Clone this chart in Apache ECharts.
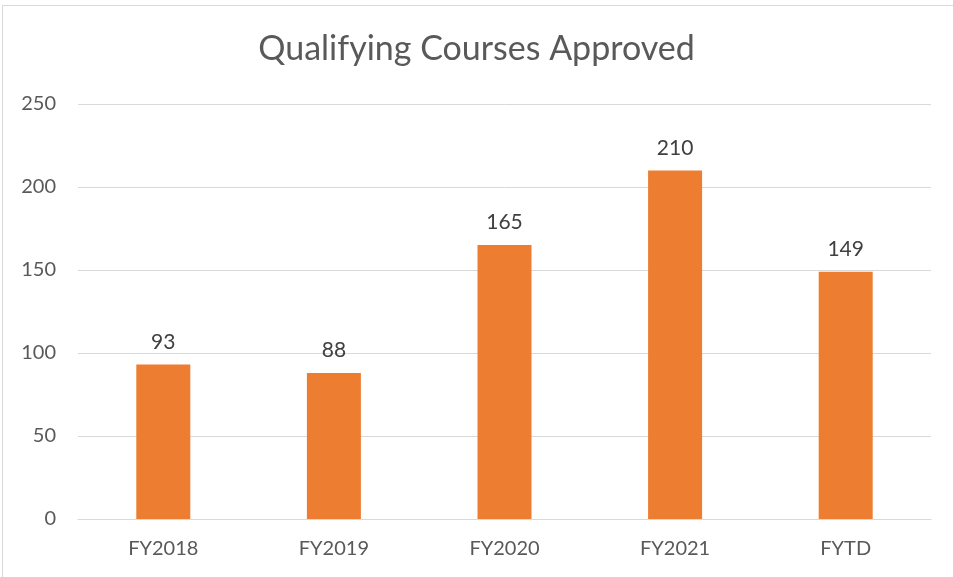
<!DOCTYPE html>
<html>
<head>
<meta charset="utf-8">
<script src="https://cdn.jsdelivr.net/npm/echarts@6/dist/echarts.min.js"></script>
<style>
  html, body { margin: 0; padding: 0; background: #fff; }
  #frame { position: absolute; left: 2px; top: 5px; width: 960px; height: 580px; border: 1px solid #d9d9d9; box-sizing: border-box; }
  #chart { position: absolute; left: 0; top: 0; width: 953px; height: 577px; }
</style>
</head>
<body>
<div id="frame"></div>
<div id="chart"></div>
<script>
const CATEGORIES = ['FY2018', 'FY2019', 'FY2020', 'FY2021', 'FYTD'];
const VALUES = [93, 88, 165, 210, 149];
const TITLE = 'Qualifying Courses Approved';

const FONT = 'Lato, "Open Sans", sans-serif';

const chart = echarts.init(document.getElementById('chart'));

chart.setOption({
    animation: false,
    title: {
        text: TITLE,
        left: 'center',
        top: 27,
        textStyle: { color: '#595959', fontSize: 34, fontWeight: 'normal', fontFamily: FONT }
    },
    grid: { left: 78, right: 22, top: 104, bottom: 58 },
    xAxis: {
        type: 'category',
        data: CATEGORIES,
        axisLine: { lineStyle: { color: '#d9d9d9', width: 1 } },
        axisTick: { show: false },
        axisLabel: { color: '#595959', fontSize: 20, fontFamily: FONT, margin: 20 }
    },
    yAxis: {
        type: 'value',
        min: 0,
        max: 250,
        interval: 50,
        axisLine: { show: false },
        axisTick: { show: false },
        axisLabel: { color: '#595959', fontSize: 20, fontFamily: FONT, margin: 22, align: 'right' },
        splitLine: { lineStyle: { color: '#d9d9d9', width: 1 } }
    },
    series: [{
        type: 'bar',
        data: VALUES,
        barWidth: 54,
        itemStyle: { color: '#ed7d31' },
        label: {
            show: true,
            position: 'top',
            distance: 12,
            color: '#404040',
            fontSize: 21,
            fontFamily: FONT
        }
    }]
});
</script>
</body>
</html>
